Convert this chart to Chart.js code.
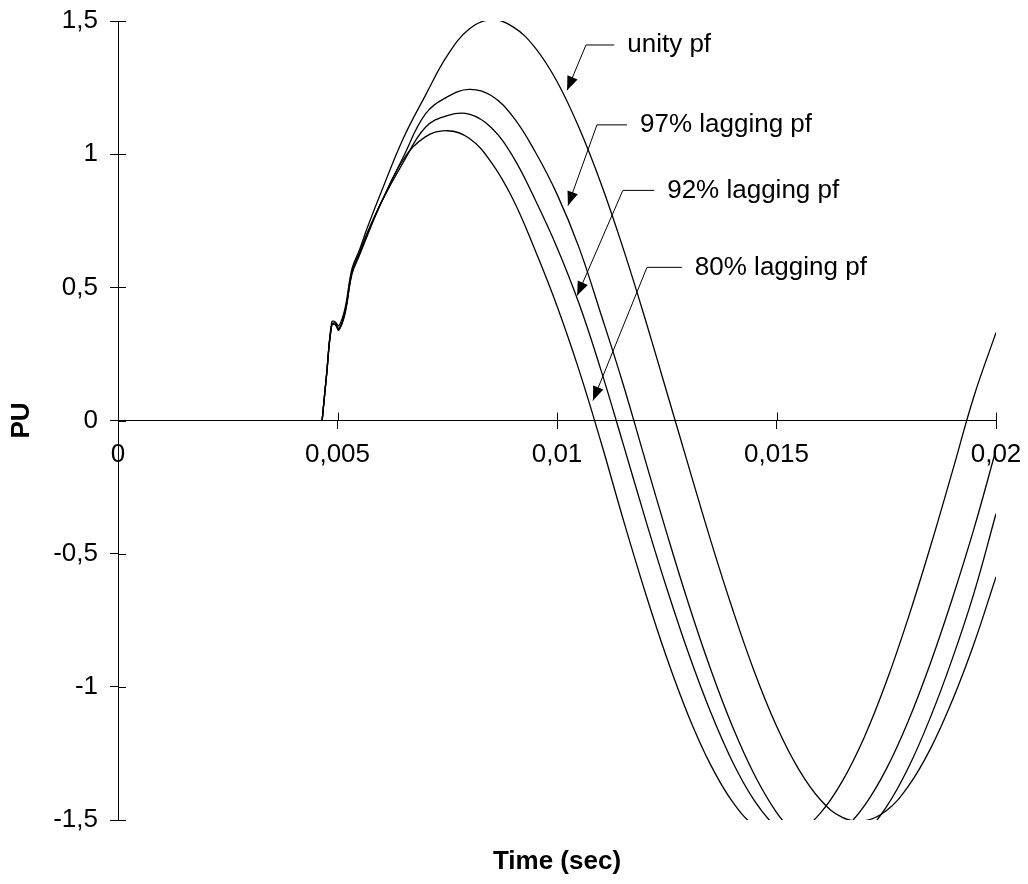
<!DOCTYPE html>
<html>
<head>
<meta charset="utf-8">
<script src="https://cdn.jsdelivr.net/npm/chart.js@4.4.1/dist/chart.umd.min.js"></script>
<style>
  body { margin: 0; background: #fff; }
  #wrap { width: 1028px; height: 884px; }
</style>
</head>
<body>
<div id="wrap"><canvas id="pfChart" width="1028" height="884"></canvas></div>
<script>
// time samples (sec) shared by all curves
var timeSec = [0.00465, 0.00475, 0.00487, 0.00495, 0.00503, 0.00517, 0.00533, 0.0055, 0.00567, 0.006,
               0.0065, 0.007, 0.0075, 0.008, 0.0085, 0.009, 0.0095, 0.010, 0.0105, 0.011,
               0.0115, 0.012, 0.0125, 0.013, 0.0135, 0.014, 0.0145, 0.015, 0.0155, 0.016,
               0.0165, 0.017, 0.0175, 0.018, 0.0185, 0.019, 0.0195, 0.020];

var unityPf = [0, 0.17, 0.37, 0.37, 0.355, 0.42, 0.57, 0.64, 0.72, 0.86,
               1.06, 1.22, 1.37, 1.47, 1.505, 1.478, 1.40, 1.273, 1.10, 0.891,
               0.65, 0.386, 0.107, -0.173, -0.45, -0.709, -0.945, -1.147, -1.308, -1.424,
               -1.49, -1.503, -1.465, -1.374, -1.235, -1.053, -0.837, -0.587];

var lag97 = [0, 0.17, 0.36, 0.365, 0.345, 0.41, 0.56, 0.63, 0.70, 0.82,
             0.99, 1.15, 1.215, 1.243, 1.22, 1.14, 1.01, 0.85, 0.65, 0.40,
             0.14, -0.143, -0.423, -0.69, -0.934, -1.15, -1.331, -1.471, -1.565, -1.611,
             -1.607, -1.553, -1.452, -1.305, -1.117, -0.897, -0.647, -0.35];

var lag92 = [0, 0.17, 0.36, 0.36, 0.34, 0.405, 0.555, 0.625, 0.70, 0.82,
             0.97, 1.10, 1.145, 1.15, 1.10, 0.99, 0.83, 0.65, 0.44, 0.19,
             -0.084, -0.363, -0.63, -0.876, -1.095, -1.282, -1.428, -1.528, -1.582, -1.586,
             -1.54, -1.447, -1.309, -1.129, -0.914, -0.671, -0.405, -0.11];

var lag80 = [0, 0.17, 0.36, 0.36, 0.34, 0.40, 0.55, 0.62, 0.69, 0.82,
             0.98, 1.065, 1.088, 1.06, 0.97, 0.83, 0.64, 0.43, 0.19, -0.08,
             -0.367, -0.64, -0.891, -1.111, -1.293, -1.432, -1.522, -1.559, -1.543, -1.474,
             -1.354, -1.189, -0.982, -0.742, -0.477, -0.195, 0.092, 0.33];

var xTicks = [0, 0.005, 0.01, 0.015, 0.02];
var yTicks = [-1.5, -1, -0.5, 0, 0.5, 1, 1.5];

// callout labels: arrow tip, elbow, text start (data units)
var notes = [
  { text: 'unity pf',       tip: [0.01023, 1.24],  elbow: [0.01066, 1.41],  textX: 0.01160 },
  { text: '97% lagging pf', tip: [0.01025, 0.807], elbow: [0.01091, 1.11],  textX: 0.01189 },
  { text: '92% lagging pf', tip: [0.01046, 0.469], elbow: [0.01150, 0.864], textX: 0.01251 },
  { text: '80% lagging pf', tip: [0.01082, 0.075], elbow: [0.01205, 0.575], textX: 0.01314 }
];

var FONT = '"Liberation Sans", Arial, sans-serif';
Chart.defaults.font.family = FONT;
Chart.defaults.font.size = 26;
Chart.defaults.color = '#000';

function toPoints(values) {
  return timeSec.map(function (t, i) { return { x: t, y: values[i] }; });
}

function commaNum(v) {
  return String(Math.round(v * 1e6) / 1e6).replace('.', ',');
}

function curve(values) {
  return {
    data: toPoints(values),
    borderColor: '#000',
    borderWidth: 1.3,
    pointRadius: 0,
    fill: false,
    tension: 0.4,
    clip: 0
  };
}

// small tick marks on the inner side of both axes
var crossTicks = {
  id: 'crossTicks',
  afterDraw: function (chart) {
    var ctx = chart.ctx, xs = chart.scales.x, ys = chart.scales.y;
    var y0 = ys.getPixelForValue(0);
    ctx.save();
    ctx.strokeStyle = '#000';
    ctx.lineWidth = 1;
    ctx.beginPath();
    yTicks.forEach(function (v) {
      var py = Math.round(ys.getPixelForValue(v)) + 0.5;
      ctx.moveTo(xs.left, py);
      ctx.lineTo(xs.left + 8, py);
    });
    xTicks.forEach(function (v) {
      var px = Math.round(xs.getPixelForValue(v)) + 0.5;
      ctx.moveTo(px, y0);
      ctx.lineTo(px, y0 - 8);
    });
    ctx.stroke();
    ctx.restore();
  }
};

var callouts = {
  id: 'callouts',
  afterDraw: function (chart) {
    var ctx = chart.ctx, xs = chart.scales.x, ys = chart.scales.y, area = chart.chartArea;
    ctx.save();
    ctx.strokeStyle = '#000';
    ctx.fillStyle = '#000';
    ctx.lineWidth = 1;
    ctx.font = '26px ' + FONT;
    ctx.textBaseline = 'middle';
    notes.forEach(function (n) {
      var tx = xs.getPixelForValue(n.tip[0]), ty = ys.getPixelForValue(n.tip[1]);
      var ex = xs.getPixelForValue(n.elbow[0]), ey = ys.getPixelForValue(n.elbow[1]);
      var lx = xs.getPixelForValue(n.textX);
      ctx.beginPath();
      ctx.moveTo(lx - 13, ey);
      ctx.lineTo(ex, ey);
      ctx.lineTo(tx, ty);
      ctx.stroke();
      // arrow head
      var ang = Math.atan2(ty - ey, tx - ex), len = 14, hw = 5.5;
      var bx = tx - len * Math.cos(ang), by = ty - len * Math.sin(ang);
      ctx.beginPath();
      ctx.moveTo(tx, ty);
      ctx.lineTo(bx + hw * Math.sin(ang), by - hw * Math.cos(ang));
      ctx.lineTo(bx - hw * Math.sin(ang), by + hw * Math.cos(ang));
      ctx.closePath();
      ctx.fill();
      ctx.textAlign = 'left';
      ctx.fillText(n.text, lx, ey);
    });
    // x axis title, centred under the plot area
    ctx.font = 'bold 26px ' + FONT;
    ctx.textAlign = 'center';
    ctx.fillText('Time (sec)', (area.left + area.right) / 2, area.bottom + 42);
    ctx.restore();
  }
};

new Chart(document.getElementById('pfChart'), {
  type: 'line',
  data: {
    datasets: [curve(unityPf), curve(lag97), curve(lag92), curve(lag80)]
  },
  options: {
    responsive: false,
    animation: false,
    layout: { padding: { top: 21, right: 32, left: 0, bottom: 64 } },
    plugins: {
      legend: { display: false },
      tooltip: { enabled: false }
    },
    scales: {
      x: {
        type: 'linear',
        min: 0,
        max: 0.02,
        position: { y: 0 },
        afterBuildTicks: function (s) { s.ticks = xTicks.map(function (v) { return { value: v }; }); },
        afterFit: function (s) { s.paddingLeft = 0; s.paddingRight = 0; },
        grid: { drawOnChartArea: false, drawTicks: true, tickLength: 8, color: '#000' },
        border: { color: '#000', width: 1 },
        ticks: { color: '#000', padding: 11, maxRotation: 0, autoSkip: false, callback: commaNum }
      },
      y: {
        type: 'linear',
        min: -1.5,
        max: 1.5,
        afterBuildTicks: function (s) { s.ticks = yTicks.map(function (v) { return { value: v }; }); },
        afterFit: function (s) { s.width = 118; s.paddingTop = 0; s.paddingBottom = 0; },
        grid: { drawOnChartArea: false, drawTicks: true, tickLength: 8, color: '#000' },
        border: { color: '#000', width: 1 },
        ticks: { color: '#000', padding: 12, callback: commaNum },
        title: {
          display: true,
          text: 'PU',
          color: '#000',
          font: { size: 26, weight: 'bold' },
          padding: { top: 6, bottom: 0 }
        }
      }
    }
  },
  plugins: [crossTicks, callouts]
});
</script>
</body>
</html>
